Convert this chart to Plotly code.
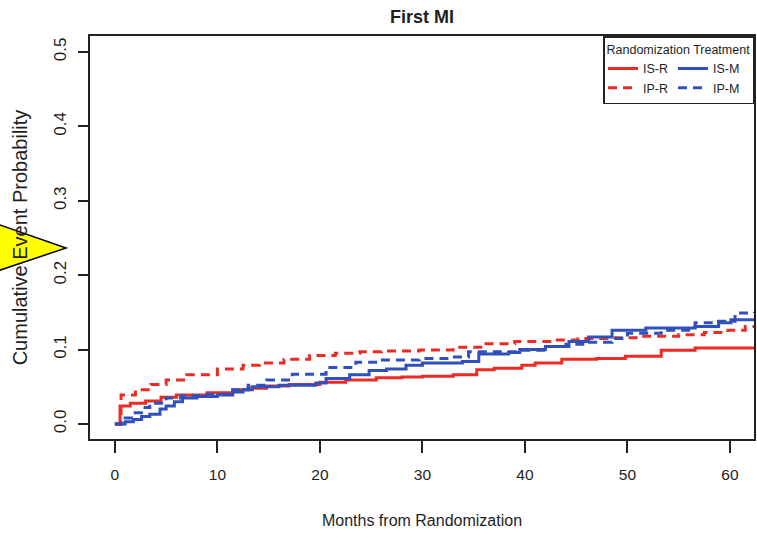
import plotly.graph_objects as go

# ---- data ----
is_r_m = [0, 0.5, 1.5, 3, 4.5, 6, 9, 11.5, 13, 14.8, 17, 20, 22.5, 25.5, 28, 30, 33, 35.3, 37, 39.7, 41, 43.6, 47, 49.8, 53.3, 56.6, 62.4]
is_r_p = [0, 0.024, 0.028, 0.031, 0.036, 0.039, 0.042, 0.046, 0.048, 0.051, 0.053, 0.056, 0.059, 0.062, 0.063, 0.064, 0.066, 0.073, 0.075, 0.079, 0.082, 0.087, 0.088, 0.091, 0.099, 0.102, 0.103]

ip_r_m = [0, 0.6, 2, 3.5, 5, 7, 10, 12.5, 14.1, 16.5, 19, 21.5, 23.9, 26, 29.7, 33, 36.2, 39, 42.6, 45.2, 48.5, 51, 55, 57.5, 59.8, 61.5, 62.4]
ip_r_p = [0, 0.039, 0.046, 0.053, 0.059, 0.066, 0.074, 0.079, 0.082, 0.087, 0.092, 0.095, 0.097, 0.098, 0.0995, 0.103, 0.108, 0.111, 0.113, 0.115, 0.116, 0.118, 0.120, 0.123, 0.126, 0.131, 0.133]

is_m_m = [0, 1, 1.8, 2.6, 3.4, 4.4, 5, 5.8, 6.6, 8, 10, 11.5, 12.5, 13.4, 16, 19.6, 20.6, 22.9, 24.8, 26.5, 28.4, 30, 33.9, 35.5, 38.4, 39.5, 42, 44.3, 46.2, 48.5, 51.8, 56.6, 58.9, 60.1, 62.4]
is_m_p = [0, 0.003, 0.006, 0.010, 0.013, 0.020, 0.024, 0.030, 0.035, 0.037, 0.039, 0.043, 0.046, 0.050, 0.052, 0.055, 0.061, 0.066, 0.072, 0.074, 0.079, 0.082, 0.084, 0.094, 0.096, 0.100, 0.104, 0.111, 0.117, 0.126, 0.129, 0.131, 0.136, 0.140, 0.140]

ip_m_m = [0, 1, 1.8, 2.6, 3.4, 5, 6.5, 8.3, 11.5, 13, 14.8, 17.3, 20.6, 23.5, 25.8, 29.7, 32.9, 34.5, 39.3, 42, 44, 45.9, 48.5, 50, 53.3, 56.6, 58.9, 60.5, 62.4]
ip_m_p = [0, 0.008, 0.015, 0.022, 0.028, 0.035, 0.038, 0.040, 0.046, 0.052, 0.059, 0.067, 0.076, 0.083, 0.086, 0.088, 0.090, 0.097, 0.099, 0.104, 0.107, 0.110, 0.115, 0.122, 0.126, 0.136, 0.138, 0.149, 0.151]

x_ticks = [0, 10, 20, 30, 40, 50, 60]
y_ticks = [0.0, 0.1, 0.2, 0.3, 0.4, 0.5]

RED = "#EC2B25"
BLUE = "#3051BD"
FONT = "Liberation Sans, Arial, Helvetica, sans-serif"
TXT = "#1e1e1e"

fig = go.Figure()
series = [
    ("IS-R", is_r_m, is_r_p, RED, "solid", "R"),
    ("IP-R", ip_r_m, ip_r_p, RED, "9px,6px", "R"),
    ("IS-M", is_m_m, is_m_p, BLUE, "solid", "M"),
    ("IP-M", ip_m_m, ip_m_p, BLUE, "9px,6px", "M"),
]
for name, xs, ys, col, dash, grp in series:
    fig.add_trace(go.Scatter(
        x=xs, y=ys, name=name, mode="lines", legendgroup=grp,
        line=dict(color=col, width=3, dash=dash, shape="hv"),
    ))

W, H = 757, 538
L, R, T, B = 90, 1, 36, 99
pw, ph = W - L - R, H - T - B

def px(xp):
    return (xp - L) / pw

def py(yp):
    return (H - B - yp) / ph

# yellow pointer arrow on the left edge (decoration)
arrow = "M {},{} L {},{} L {},{} Z".format(px(-6), py(223), px(66), py(248), px(-6), py(272))

fig.update_layout(
    width=W, height=H,
    margin=dict(l=L, r=R, t=T, b=B),
    paper_bgcolor="white", plot_bgcolor="white",
    font=dict(family=FONT, color=TXT),
    title=dict(text="<b>First MI</b>", x=px(423), xref="paper", xanchor="center",
               y=1 - 17 / H, yanchor="middle", font=dict(size=18, color=TXT)),
    showlegend=True,
    legend=dict(
        orientation="h", traceorder="grouped", tracegroupgap=0,
        x=1, xanchor="right", y=1, yanchor="top",
        bordercolor="#222222", borderwidth=1.5, bgcolor="white",
        font=dict(size=12.5, color=TXT),
        title=dict(text="Randomization Treatment", side="top", font=dict(size=12.5, color=TXT)),
        itemwidth=30,
    ),
    shapes=[dict(type="path", path=arrow, xref="paper", yref="paper",
                 fillcolor="#FFFF00", line=dict(color="black", width=1.5), layer="above")],
)

fig.update_xaxes(
    range=[-2.43, 62.35], tickvals=x_ticks, ticktext=[str(v) for v in x_ticks],
    showgrid=False, zeroline=False, showline=True, mirror=True,
    linecolor="#222222", linewidth=1.5,
    ticks="outside", ticklen=12, tickwidth=1.5, tickcolor="#222222",
    tickfont=dict(size=15.5, color=TXT), ticklabelstandoff=9,
    title=dict(text="Months from Randomization", font=dict(size=16, color=TXT), standoff=32),
)
fig.update_yaxes(
    range=[-0.0202, 0.5215], tickvals=y_ticks, ticktext=["%.1f" % v for v in y_ticks],
    showgrid=False, zeroline=False, showline=True, mirror=True,
    linecolor="#222222", linewidth=1.5,
    ticks="outside", ticklen=10, tickwidth=1.5, tickcolor="#222222",
    tickfont=dict(size=17, color=TXT), tickangle=-90, ticklabelstandoff=5,
    title=dict(text="Cumulative Event Probability", font=dict(size=20, color=TXT), standoff=18),
)

fig.write_html("out.html")
